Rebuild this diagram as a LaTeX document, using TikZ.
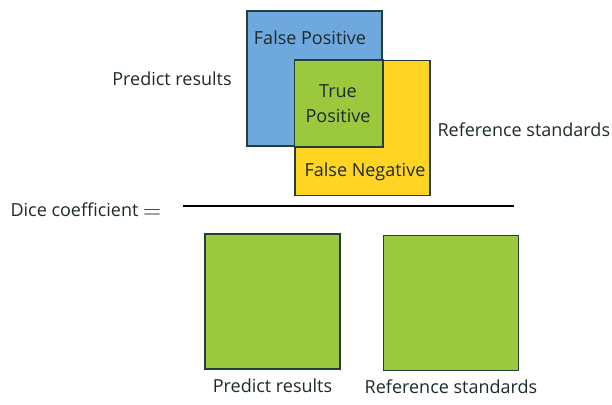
\documentclass[tikz,border=0pt]{standalone}
\usepackage{fontspec}
\setmainfont{Open Sans}
\usetikzlibrary{positioning}

\definecolor{fpblue}{HTML}{6FA8DC}
\definecolor{fnyellow}{HTML}{FFD422}
\definecolor{tpgreen}{HTML}{9BC83C}
\definecolor{edgedark}{HTML}{263D3D}
\definecolor{txtdark}{HTML}{1E2A2A}

\begin{document}
\begin{tikzpicture}[x=1pt, y=-1pt, font=\fontsize{18}{21}\selectfont, text=txtdark]
  \newcommand\squareside{135pt}
  \newcommand\edgewidth{1.5pt}

  \useasboundingbox (0,0) rectangle (612,404);

  % overlapping sets
  \node[draw=edgedark, line width=\edgewidth, fill=fpblue, minimum size=\squareside, inner sep=0pt] at (314.5, 78.5) (pred) {};
  \node[draw=edgedark, line width=\edgewidth, fill=fnyellow, minimum size=\squareside, inner sep=0pt] at (362.5, 128) (ref) {};
  \draw[edgedark, line width=\edgewidth, fill=tpgreen] (ref.north west) rectangle (pred.south east);

  \node at (310, 38) (fp) {False Positive};
  \node[align=center, font=\fontsize{18}{25}\selectfont] at (338, 104) (tp) {True\\Positive};
  \node at (365, 172) (fn) {False Negative};

  \node at (172, 79) (predlbl) {Predict results};
  \node[anchor=west] at (434, 130) (reflbl) {Reference standards};

  % fraction
  \node[anchor=west] at (7, 211) (dice) {Dice coefficient \raisebox{-2pt}{\fontsize{25}{25}\selectfont$=$}};
  \coordinate (barl) at (183, 206);
  \coordinate (barr) at (514, 206);
  \draw[line width=2.8pt, black] (barl) -- (barr);

  % denominator
  \node[draw=edgedark, line width=\edgewidth, fill=tpgreen, minimum size=\squareside, inner sep=0pt] at (272.5, 301.5) (predsq) {};
  \node[draw=edgedark, line width=\edgewidth, fill=tpgreen, minimum size=\squareside, inner sep=0pt, right=42pt of predsq.east, anchor=west, yshift=-1.5pt] (refsq) {};

  \node[below=6pt of predsq] (predname) {Predict results};
  \node[below=5pt of refsq] (refname) {Reference standards};
\end{tikzpicture}
\end{document}
